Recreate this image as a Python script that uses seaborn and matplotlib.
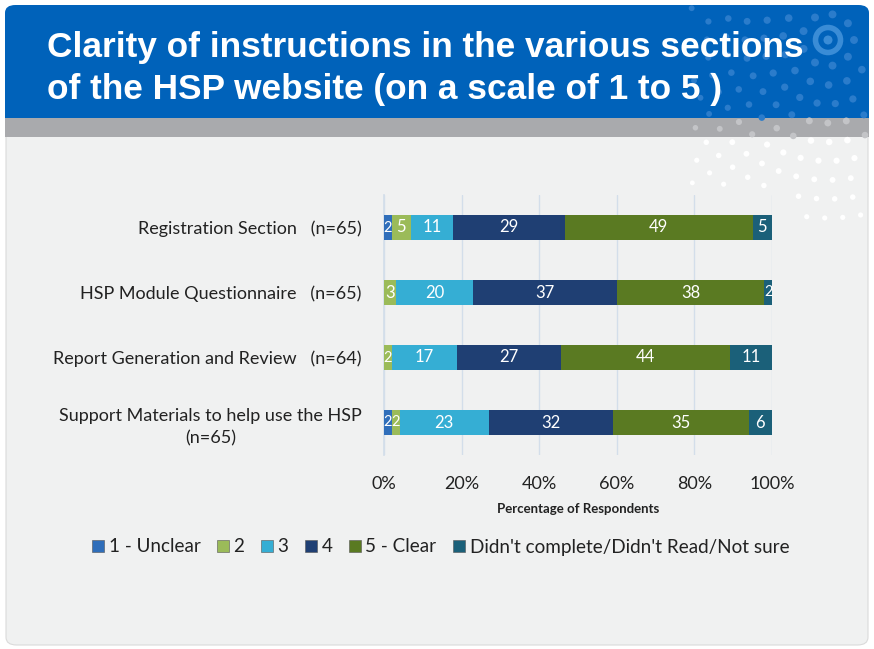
import numpy as np
import pandas as pd
import matplotlib
matplotlib.use("Agg")
import matplotlib.pyplot as plt
from matplotlib.patches import FancyBboxPatch, Rectangle, Ellipse
from matplotlib.lines import Line2D
import seaborn as sns

# ---------------- data ----------------
categories = [
    "Registration Section   (n=65)",
    "HSP Module Questionnaire   (n=65)",
    "Report Generation and Review   (n=64)",
    "Support Materials to help use the HSP\n(n=65)",
]
series_names = ["1 - Unclear", "2", "3", "4", "5 - Clear",
                "Didn't complete/Didn't Read/Not sure"]
unclear = [2, 0, 0, 2]
two = [5, 3, 2, 2]
three = [11, 20, 17, 23]
four = [29, 37, 27, 32]
clear = [49, 38, 44, 35]
not_sure = [5, 2, 11, 6]
x_ticks = [0, 20, 40, 60, 80, 100]
x_tick_labels = ["0%", "20%", "40%", "60%", "80%", "100%"]

colors = ["#2F6EBA", "#9BBB59", "#35AED4", "#1F3F73", "#5A7A22", "#1B6079"]

sns.set_theme(style="white")
plt.rcParams["font.family"] = ["Lato", "DejaVu Sans"]

W, H = 874, 649
fig = plt.figure(figsize=(W / 100, H / 100), dpi=100)
fig.patch.set_facecolor("white")

def fx(px):
    return px / W

def fy(py):
    return 1 - py / H

# slide background
fig.patches.append(FancyBboxPatch((fx(6), fy(645)), fx(862), (642 - 8) / H,
                                  boxstyle="round,pad=0,rounding_size=0.012",
                                  transform=fig.transFigure, facecolor="#F0F1F1",
                                  edgecolor="#DADADA", lw=0.8, zorder=-5))
# blue banner
fig.patches.append(FancyBboxPatch((fx(5), fy(118)), fx(864), (118 - 5) / H,
                                  boxstyle="round,pad=0,rounding_size=0.012",
                                  transform=fig.transFigure, facecolor="#0062BA",
                                  edgecolor="none", zorder=-4))
fig.patches.append(Rectangle((fx(5), fy(118)), fx(864), 30 / H,
                             transform=fig.transFigure, facecolor="#0062BA",
                             edgecolor="none", zorder=-4))
# gray band
fig.patches.append(Rectangle((fx(5), fy(137)), fx(864), 19 / H,
                             transform=fig.transFigure, facecolor="#A9AAAD",
                             edgecolor="none", zorder=-4))

# decorative dots (background ornament)
cx, cy = 828, 40
for k, r in enumerate(range(26, 240, 19)):
    n = max(6, int(2 * np.pi * r / 18))
    for t in np.linspace(0, 2 * np.pi, n, endpoint=False):
        px = cx + r * np.cos(t + 0.3 * k)
        py = cy + r * np.sin(t + 0.3 * k)
        if px < 690 or px > 866 or py < 8 or py > 228:
            continue
        if py > 190 and px < 790:
            continue
        if py < 118:
            col = "#2B7CCB"
        elif py < 137:
            col = "#C3C4C7"
        else:
            col = "white"
        rad = max(2.3, 4.2 - r / 110)
        fig.patches.append(Ellipse((fx(px), fy(py)), 2 * rad / W, 2 * rad / H,
                                   transform=fig.transFigure, facecolor=col,
                                   edgecolor="none", zorder=-3))
# decorative ring
fig.patches.append(Ellipse((fx(cx), fy(cy)), 25 / W, 25 / H, transform=fig.transFigure,
                           facecolor="none", edgecolor="#3A8CD6", lw=4, zorder=-2))
fig.patches.append(Ellipse((fx(cx), fy(cy)), 9 / W, 9 / H, transform=fig.transFigure,
                           facecolor="#3A8CD6", edgecolor="none", zorder=-2))

# title
title_family = ["Liberation Sans Narrow", "Liberation Sans", "DejaVu Sans"]
fig.text(fx(47), fy(57), "Clarity of instructions in the various sections",
         color="white", fontsize=25.4, fontweight="bold", family=title_family,
         ha="left", va="baseline", zorder=3)
fig.text(fx(47), fy(99), "of the HSP website (on a scale of 1 to 5 )",
         color="white", fontsize=25.4, fontweight="bold", family=title_family,
         ha="left", va="baseline", zorder=3)

# ---------------- chart ----------------
ax = fig.add_axes([fx(384), fy(455), fx(772) - fx(384), (455 - 195) / H])
ax.set_zorder(5)
ax.set_facecolor("none")

raw = np.array([unclear, two, three, four, clear, not_sure], dtype=float)
pct = raw / raw.sum(axis=0) * 100
cum = np.cumsum(pct, axis=0)

df = pd.DataFrame({"category": categories})
for i in range(len(series_names) - 1, -1, -1):
    df["cum"] = cum[i]
    sns.barplot(data=df, x="cum", y="category", orient="h", color=colors[i],
                saturation=1, width=0.38, ax=ax, zorder=3, linewidth=0)

starts = cum - pct
for i in range(len(series_names)):
    for j in range(len(categories)):
        v = raw[i, j]
        if v > 0:
            fs = 12 if pct[i, j] >= 3 else 10.5
            ax.text(starts[i, j] + pct[i, j] / 2, j, f"{int(v)}", color="white",
                    ha="center", va="center", fontsize=fs, zorder=5)

ax.set_xlim(0, 100)
ax.set_ylim(3.5, -0.5)
ax.set_xticks(x_ticks)
ax.set_xticklabels(x_tick_labels, fontsize=13, color="#222222")
ax.tick_params(axis="x", length=0, pad=15)
ax.tick_params(axis="y", length=0, pad=16)
for lab in ax.get_yticklabels():
    lab.set_fontsize(13)
    lab.set_color("#222222")
    lab.set_multialignment("center")
    lab.set_linespacing(1.45)
ax.set_ylabel("")
ax.set_xlabel("Percentage of Respondents", fontsize=9.5, fontweight="bold",
              color="#222222", labelpad=8)
ax.grid(axis="x", color="#D3DEEA", lw=1, zorder=0)
ax.set_axisbelow(True)
for s in ["top", "right", "bottom"]:
    ax.spines[s].set_visible(False)
ax.spines["left"].set_color("#D3DEEA")

handles = [Line2D([0], [0], marker="s", linestyle="none", markersize=8,
                  markerfacecolor=c, markeredgecolor="#555555", markeredgewidth=0.4)
           for c in colors]
fig.legend(handles, series_names, loc="center", bbox_to_anchor=(fx(439), fy(547)),
           ncol=6, frameon=False, fontsize=13.6, handletextpad=0.05,
           columnspacing=0.7, handlelength=1.0, labelcolor="#222222")

fig.savefig("out.png", dpi=100, facecolor="white")
